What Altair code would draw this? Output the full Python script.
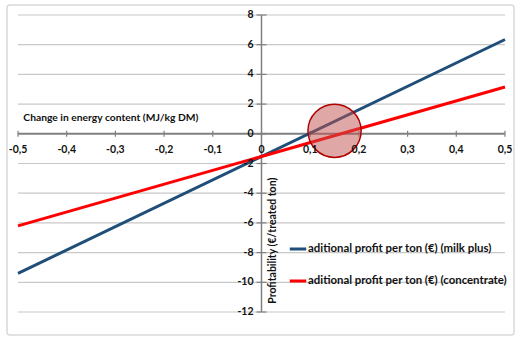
import altair as alt
import pandas as pd

# ---- data ----
x_ends = [-0.5, 0.5]
milk_plus = [-9.4, 6.35]
concentrate = [-6.2, 3.15]
series_names = ["aditional  profit per ton (€) (milk plus)",
                "aditional  profit per ton (€) (concentrate)"]
y_ticks = [8, 6, 4, 2, 0, -2, -4, -6, -8, -10, -12]
x_ticks = [-0.5, -0.4, -0.3, -0.2, -0.1, 0.0, 0.1, 0.2, 0.3, 0.4, 0.5]
x_tick_labels = ["-0,5", "-0,4", "-0,3", "-0,2", "-0,1", "0", "0,1", "0,2", "0,3", "0,4", "0,5"]
circle_x = [0.15]
circle_y = [0.2]

FONT = "Lato"
GRID = "#C8C8C8"
AXIS = "#808080"
BLUE = "#1F4E79"
RED = "#FF0000"
TXT = "#111111"

lines_df = pd.DataFrame({
    "x": x_ends * 2,
    "y": milk_plus + concentrate,
    "series": [series_names[0]] * 2 + [series_names[1]] * 2,
})
ytick_df = pd.DataFrame({"y": y_ticks, "lab": [str(v) for v in y_ticks]})
xtick_df = pd.DataFrame({"x": x_ticks, "lab": x_tick_labels})
circle_df = pd.DataFrame({"x": circle_x, "y": circle_y})

xs = alt.Scale(domain=[-0.5, 0.5], nice=False, zero=False)
ys = alt.Scale(domain=[-12, 8], nice=False, zero=False)

X = lambda f: alt.X(f, type="quantitative", scale=xs, axis=None)
Y = lambda f: alt.Y(f, type="quantitative", scale=ys, axis=None)

frame = alt.Chart(circle_df).mark_rect(
    fill="white", stroke="#D9D9D9", strokeWidth=1.5, cornerRadius=3
).encode(x=alt.value(-11), x2=alt.value(496), y=alt.value(-10), y2=alt.value(320))

grid = alt.Chart(ytick_df[ytick_df.y != 0]).mark_rule(color=GRID, strokeWidth=1.2).encode(y=Y("y"))

zero_axis = alt.Chart(ytick_df[ytick_df.y == 0]).mark_rule(color=AXIS, strokeWidth=2).encode(y=Y("y"))

y_axis = alt.Chart(pd.DataFrame({"x": [0.0], "y": [-12], "y2": [8]})).mark_rule(
    color=AXIS, strokeWidth=1.5).encode(x=X("x"), y=Y("y"), y2="y2")

yticks = alt.Chart(ytick_df).mark_point(
    shape="M-1,0L1,0", size=100, filled=False, stroke=AXIS, strokeWidth=1.2, opacity=1
).encode(x=alt.X("zero:Q", scale=xs, axis=None), y=Y("y")).transform_calculate(zero="0")

xticks = alt.Chart(xtick_df).mark_point(
    shape="M0,-1L0,1", size=36, filled=False, stroke=AXIS, strokeWidth=1.2, opacity=1
).encode(x=X("x"), y=alt.Y("zero:Q", scale=ys, axis=None)).transform_calculate(zero="0")

ylabels = alt.Chart(ytick_df).mark_text(
    align="right", baseline="middle", dx=-8, font=FONT, fontSize=10.5, fontWeight="bold", color=TXT
).encode(x=alt.X("zero:Q", scale=xs, axis=None), y=Y("y"), text="lab:N").transform_calculate(zero="0")

xlabels = alt.Chart(xtick_df).mark_text(
    align="center", baseline="middle", dy=16, font=FONT, fontSize=10.5, fontWeight="bold", color=TXT
).encode(x=X("x"), y=alt.Y("zero:Q", scale=ys, axis=None), text="lab:N").transform_calculate(zero="0")

lines = alt.Chart(lines_df).mark_line(strokeWidth=3).encode(
    x=X("x"), y=Y("y"),
    color=alt.Color("series:N",
                    scale=alt.Scale(domain=series_names, range=[BLUE, RED]),
                    sort=series_names,
                    legend=alt.Legend(title=None, orient="none", legendX=270, legendY=224,
                                      symbolType="stroke", symbolSize=272, symbolStrokeWidth=3,
                                      labelFont=FONT, labelFontSize=11.4, labelFontWeight="bold",
                                      labelColor=TXT, rowPadding=16, labelOffset=0,
                                      labelLimit=400)),
)

circle = alt.Chart(circle_df).mark_point(
    shape="circle", size=2830, filled=True, fill="#C0504D", fillOpacity=0.5,
    stroke="#B00000", strokeWidth=1.5, strokeOpacity=1, opacity=1
).encode(x=X("x"), y=Y("y"))

x_title = alt.Chart(circle_df).mark_text(
    text="Change in energy content (MJ/kg DM)", align="left", baseline="middle",
    font=FONT, fontSize=10.3, fontWeight="bold", color=TXT
).encode(x=alt.X("a:Q", scale=xs, axis=None), y=alt.Y("b:Q", scale=ys, axis=None)).transform_calculate(
    a="-0.489", b="1.05")

y_title = alt.Chart(circle_df).mark_text(
    text="Profitability (€/treated ton)", align="center", baseline="middle", angle=270, dy=11,
    font=FONT, fontSize=10.5, fontWeight="bold", color=TXT
).encode(x=alt.X("a:Q", scale=xs, axis=None), y=alt.Y("b:Q", scale=ys, axis=None)).transform_calculate(
    a="0", b="-7.2")

chart = alt.layer(
    frame, grid, zero_axis, y_axis, yticks, xticks, lines, circle, ylabels, xlabels, x_title, y_title
).properties(
    width=487, height=297,
    autosize=alt.AutoSizeParams(type="none"),
    padding={"left": 18, "top": 15, "right": 15, "bottom": 29},
    background="white",
).configure_view(stroke=None)

chart.save("out.html", embed_options={"renderer": "svg", "actions": False})
